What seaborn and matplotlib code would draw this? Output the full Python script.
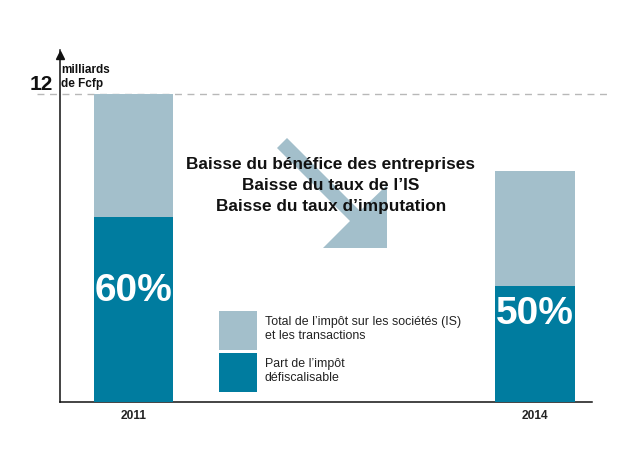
import matplotlib
matplotlib.use("Agg")
import matplotlib.pyplot as plt
import matplotlib.transforms as mtransforms
import seaborn as sns
import pandas as pd
from matplotlib.patches import Polygon, Patch

years = ["2011", "2014"]
total_tax = [12.0, 9.0]
defisc_share = [7.2, 4.5]
pct_labels = ["60%", "50%"]
ref_value = 12
legend_labels = ["Total de l\u2019impôt sur les sociétés (IS)\net les transactions",
                 "Part de l\u2019impôt\ndéfiscalisable"]
headline = ["Baisse du bénéfice des entreprises",
            "Baisse du taux de l\u2019IS",
            "Baisse du taux d\u2019imputation"]

LIGHT = "#a3bfcb"
DARK = "#007c9f"

sns.set_theme(style="white")
plt.rcParams['font.family'] = ['Liberation Sans', 'DejaVu Sans']

W, H = 637, 451
fig = plt.figure(figsize=(W / 100, H / 100), dpi=100)
ax = fig.add_axes([60 / W, (H - 401.5) / H, 532 / W, 351.5 / H])

df = pd.DataFrame({"year": years, "total": total_tax, "part": defisc_share})
sns.barplot(data=df, x="year", y="total", color=LIGHT, saturation=1, width=0.197, ax=ax,
            zorder=2, linewidth=0, edgecolor="none")
sns.barplot(data=df, x="year", y="part", color=DARK, saturation=1, width=0.197, ax=ax,
            zorder=3, linewidth=0, edgecolor="none")

ax.set_xlim(-0.183, 1.142)
ax.set_ylim(0, 13.73)
ax.set_xlabel("")
ax.set_ylabel("")
ax.set_yticks([])
ax.tick_params(axis="x", length=0, pad=6)
for t in ax.get_xticklabels():
    t.set_fontweight("bold")
    t.set_fontsize(8.6)
    t.set_color("#222222")

for s in ["top", "right"]:
    ax.spines[s].set_visible(False)
for s in ["left", "bottom"]:
    ax.spines[s].set_color("#111111")
    ax.spines[s].set_linewidth(1.1)

# y axis arrow head
ax.plot([0], [0.985], marker="^", markersize=6, color="#111111", transform=ax.transAxes,
        clip_on=False, zorder=5)

# dashed reference line
trans = mtransforms.blended_transform_factory(fig.transFigure, ax.transData)
ax.plot([37 / W, 610 / W], [ref_value, ref_value], transform=trans, color="#b8b8b8",
        linestyle=(0, (5, 4)), linewidth=1.0, clip_on=False, zorder=1)

# "12" label and unit
ax.text(41 / W, ref_value + 0.38, str(ref_value), transform=trans, ha="center", va="center",
        fontsize=15, fontweight="bold", color="#111111")
fig.text(61 / W, 1 - 63.5 / H, "milliards\nde Fcfp", ha="left", va="top", fontsize=8.5,
         fontweight="bold", color="#111111", linespacing=1.25)

# percentage labels inside dark bars
pct_y = [4.32, 3.40]
for i, (yy, lab) in enumerate(zip(pct_y, pct_labels)):
    ax.text(i, yy, lab, ha="center", va="center", color="white",
            fontsize=28, fontweight="bold", zorder=6)

# decorative arrow (figure pixel coords)
pts = [(287, 138), (360, 211), (387, 185), (387, 248), (323, 248), (350, 221), (277, 148)]
poly = Polygon([(x / W, 1 - y / H) for x, y in pts], closed=True, transform=fig.transFigure,
               facecolor=LIGHT, edgecolor="none", zorder=1)
fig.patches.append(poly)

# headline text
for k, line in enumerate(headline):
    fig.text(331 / W, 1 - (165 + 20.5 * k) / H, line, ha="center", va="center", fontsize=12.4,
             fontweight="bold", color="#111111", zorder=10)

# legend
handles = [Patch(facecolor=LIGHT, edgecolor="none"), Patch(facecolor=DARK, edgecolor="none")]
leg = fig.legend(handles, legend_labels, loc="upper left", bbox_to_anchor=(219 / W, 1 - 311 / H),
                 frameon=False, fontsize=8.9, handlelength=3.07, handleheight=4.46,
                 handletextpad=0.65, labelspacing=0.24, borderpad=0, borderaxespad=0)
for t in leg.get_texts():
    t.set_color("#222222")
    t.set_linespacing(1.3)

fig.savefig("out.png", dpi=100)
